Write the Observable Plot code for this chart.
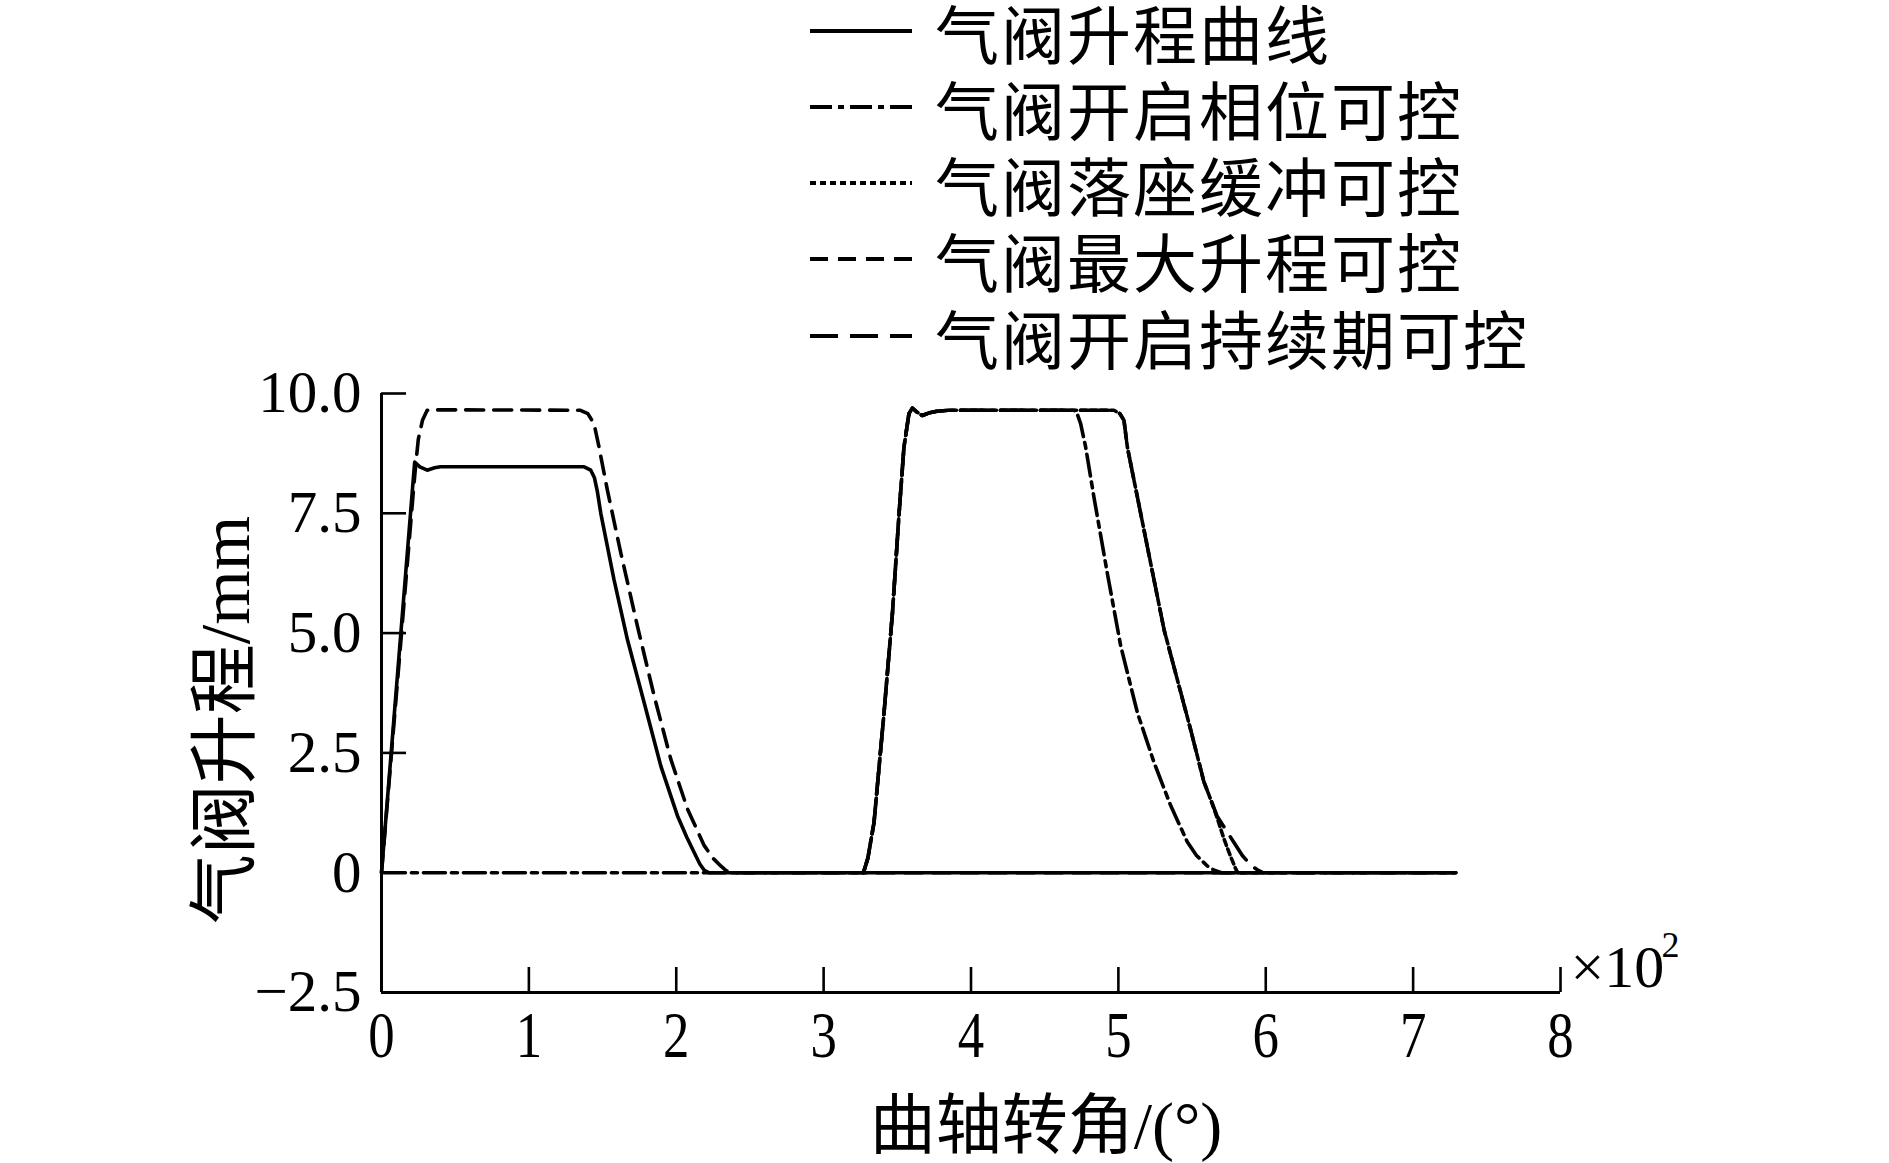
<!DOCTYPE html>
<html>
<head>
<meta charset="utf-8">
<script src="https://cdn.jsdelivr.net/npm/d3@7"></script>
<script src="https://cdn.jsdelivr.net/npm/@observablehq/plot@0.6"></script>
<style>
  html, body { margin: 0; padding: 0; background: #fff; }
  #wrap { width: 1889px; height: 1163px; position: relative; overflow: hidden; background: #fff; }
  #legend { position: relative; width: 1889px; height: 372px; }
  .row { position: absolute; left: 810px; height: 60px; display: flex; align-items: center; }
  .row svg { display: block; }
  .row span { display: inline-block; height: 60px; line-height: 60px; overflow: visible; margin-left: 23px; font-family: "Noto Sans CJK SC", sans-serif; font-size: 64px; letter-spacing: 2px; color: #000; white-space: nowrap; }
</style>
</head>
<body>
<div id="wrap">
  <div id="legend"></div>
  <div id="chart"></div>
</div>
<script>
// ---------- data (crank angle in degrees, valve lift in mm) ----------
const seriesNames = ["气阀升程曲线", "气阀开启相位可控", "气阀落座缓冲可控", "气阀最大升程可控", "气阀开启持续期可控"];
const seriesDash = ["none", "22,6,6,6", "6,4", "18,10", "28,12"];

const baseLift = [
  [0,0],[22.5,8.57],[26,8.47],[31,8.40],[36,8.45],[40,8.47],[137.5,8.47],[142,8.40],[144.5,8.24],
  [146.5,7.95],[148.8,7.50],[157.8,6.11],[166.9,4.86],[178.2,3.55],[189.5,2.23],[200.8,1.19],
  [207,0.75],[212,0.43],[216,0.18],[219,0.05],[222,0],[729,0]
];
const phaseCtrl = [
  [0,0],[327,0],[330,0.3],[334.2,1.05],[341,3.34],[346.7,5.42],[351.2,7.50],[354.5,8.88],[357.9,9.58],
  [360.2,9.70],[363,9.62],[367,9.54],[372,9.60],[377,9.63],[385,9.65],[469.9,9.65],[472,9.58],
  [474.4,9.37],[477.8,8.88],[483.4,7.84],[492.5,6.25],[501.6,4.73],[512.9,3.34],[524.2,2.30],
  [535.5,1.40],[546.8,0.64],[553,0.36],[560.4,0.14],[565,0.05],[570,0],[729,0]
];
const seatBuffer = [
  [327,0],[330,0.3],[334.2,1.05],[341,3.34],[346.7,5.42],[351.2,7.50],[354.5,8.88],[357.9,9.58],
  [360.2,9.70],[363,9.62],[367,9.54],[372,9.60],[377,9.63],[385,9.65],[497,9.65],[501,9.58],
  [503.8,9.44],[506.1,8.88],[512.9,7.84],[521.9,6.46],[531,5.07],[540,4.03],[549,2.99],[558,1.90],
  [563,1.50],[567.5,1.10],[571.6,0.71],[576,0.35],[579.6,0.08],[581,0]
];
const maxLiftCtrl = [
  [0,0],[22,8.10],[23.5,8.60],[25,9.05],[27.8,9.44],[31,9.65],[40,9.66],[135,9.65],[140,9.58],
  [144.2,9.37],[147.6,8.88],[153.3,7.98],[162.4,6.67],[173.7,5.14],[185,3.69],[196.3,2.37],
  [207.6,1.33],[218.9,0.57],[225,0.30],[230.2,0.14],[234,0.04],[237,0],[729,0]
];
const durationCtrl = [
  [327,0],[330,0.3],[334.2,1.05],[341,3.34],[346.7,5.42],[351.2,7.50],[354.5,8.88],[357.9,9.58],
  [360.2,9.70],[363,9.62],[367,9.54],[372,9.60],[377,9.63],[385,9.65],[497,9.65],[501,9.58],
  [503.8,9.44],[506.1,8.88],[512.9,7.84],[521.9,6.46],[531,5.07],[540,4.03],[549,2.99],[558,1.90],
  [563,1.50],[567,1.18],[571.6,0.96],[578,0.65],[584.1,0.36],[590,0.15],[594.3,0.06],[598,0]
];
const seriesData = [baseLift, phaseCtrl, seatBuffer, maxLiftCtrl, durationCtrl];

const xTicks = [0,1,2,3,4,5,6,7,8];          // ×10² degrees
const yTicks = [-2.5,0,2.5,5,7.5,10];
const yTickLabels = ["−2.5","0","2.5","5.0","7.5","10.0"];
const xTitle = "曲轴转角/(°)";
const yTitle = "气阀升程/mm";
const xUnit = "×10";
const xUnitExp = "2";

// ---------- legend ----------
const legendTops = [31, 107, 183, 259, 336];
const legend = document.getElementById("legend");
seriesNames.forEach((name, i) => {
  const row = document.createElement("div");
  row.className = "row";
  row.style.top = (legendTops[i] - 30) + "px";
  const dash = seriesDash[i] === "none" ? "" : `stroke-dasharray="${seriesDash[i]}"`;
  row.innerHTML = `<svg width="102" height="60"><line x1="0" y1="30" x2="102" y2="30" stroke="#000" stroke-width="4" ${dash}/></svg><span>${name}</span>`;
  legend.appendChild(row);
});

// ---------- chart ----------
const W = 1889, H = 1163 - 372;
const mL = 381, mR = 329, mT = 21, mB = 171;
const plotW = W - mL - mR, plotH = H - mT - mB;
const serif = "'Liberation Serif', 'Times New Roman', 'Noto Sans CJK SC', serif";
const pxPerDeg = plotW / 800;

const rows = [];
seriesData.forEach((arr, s) => arr.forEach(([deg, mm]) => rows.push({s, deg, mm})));

// align the dash phase of the phase-control curve with the curves starting at 327°
const dashOffsets = [0, 40 - ((327 * pxPerDeg) % 40), 0, 0, 0];

const marks = [];
[3, 1, 2, 4, 0].forEach(s => {
  marks.push(Plot.line(rows.filter(r => r.s === s), {
    x: d => d.deg / 100, y: "mm",
    stroke: "#000", strokeWidth: 3.6,
    strokeDasharray: seriesDash[s] === "none" ? undefined : seriesDash[s],
    strokeDashoffset: dashOffsets[s],
    strokeLinejoin: "round"
  }));
});

const chart = Plot.plot({
  width: W, height: H,
  marginLeft: mL, marginRight: mR, marginTop: mT, marginBottom: mB,
  style: {fontFamily: serif, color: "#000", background: "#fff", overflow: "visible"},
  x: {domain: [0, 8], label: null},
  y: {domain: [-2.5, 10], label: null},
  marks: [
    Plot.ruleX([0], {stroke: "#000", strokeWidth: 3}),
    Plot.ruleY([-2.5], {stroke: "#000", strokeWidth: 3}),
    Plot.tickY(yTicks, {y: d => d, insetRight: plotW - 25, stroke: "#000", strokeWidth: 2.6}),
    Plot.tickX(xTicks, {x: d => d, insetTop: plotH - 25, stroke: "#000", strokeWidth: 2.6}),
    Plot.axisY({ticks: yTicks, tickSize: 0, tickPadding: 20, fontSize: 59,
      tickFormat: d => yTickLabels[yTicks.indexOf(d)], label: null}),
    Plot.axisX({ticks: xTicks, tickSize: 0, tickPadding: 18, fontSize: 66,
      tickFormat: d => String(d), label: null}),
    ...marks,
    Plot.text([yTitle], {frameAnchor: "left", rotate: -90, dx: -155, dy: 27, fontSize: 70,
      textAnchor: "middle", lineAnchor: "middle", fill: "#000"}),
    Plot.text([xTitle], {frameAnchor: "bottom", dx: 75, dy: 134, fontSize: 66,
      textAnchor: "middle", lineAnchor: "middle", fill: "#000"}),
    Plot.text([xUnit], {frameAnchor: "bottom-right", dx: 10, dy: -25, fontSize: 60,
      textAnchor: "start", lineAnchor: "middle", fill: "#000"}),
    Plot.text([xUnitExp], {frameAnchor: "bottom-right", dx: 101, dy: -47, fontSize: 36,
      textAnchor: "start", lineAnchor: "middle", fill: "#000"})
  ]
});
document.getElementById("chart").appendChild(chart);

// slightly condensed x tick digits, as in the reference (scale about each label's own centre)
d3.select(chart).selectAll('g[aria-label="x-axis tick label"] text').each(function() {
  const el = this;
  const bb = el.getBBox();
  const cx = bb.x + bb.width / 2;
  const old = el.getAttribute("transform") || "";
  el.setAttribute("transform", `${old} translate(${cx},0) scale(0.8,1) translate(${-cx},0)`.trim());
});
</script>
</body>
</html>
